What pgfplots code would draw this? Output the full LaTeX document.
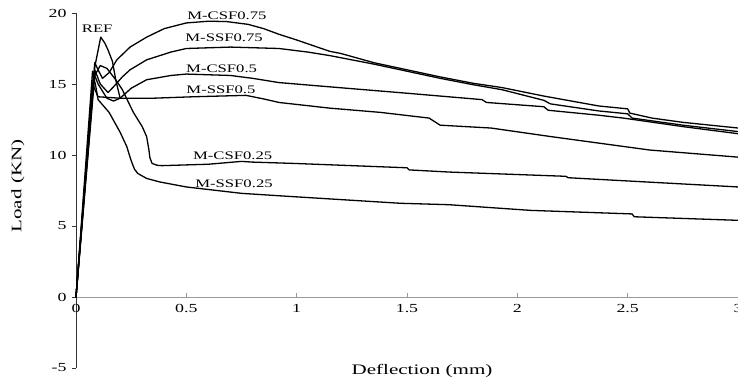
\documentclass[border=0pt]{standalone}
\usepackage{fontspec}
\setmainfont{Liberation Serif}[FakeStretch=1.45]
\usepackage{pgfplots}
\pgfplotsset{compat=1.18}
\newcommand{\lf}{\fontsize{11.5}{13}\selectfont}
\newcommand{\kf}{\fontsize{12.3}{14}\selectfont}
\newcommand{\tf}{\fontsize{14.5}{17}\selectfont}
\pgfplotsset{curve/.style={black, solid, no markers, line width=1.3pt, line join=round, line cap=round}}
\begin{document}
\begin{tikzpicture}
\begin{axis}[
  at={(0pt,0pt)}, anchor=south west,
  scale only axis, width=662pt, height=355pt,
  xmin=0, xmax=3, ymin=-5, ymax=20,
  axis x line=middle, axis y line=left,
  axis line style={-},
  x axis line style={draw=gray!80, line width=0.8pt},
  y axis line style={draw=black!80, line width=0.8pt},
  xtick={0,0.5,1,1.5,2,2.5,3}, ytick={-5,0,5,10,15,20},
  xticklabels={0,0.5,1,1.5,2,2.5,3},
  xtick align=inside, ytick align=outside,
  major tick length=4pt,
  xtick style={draw=gray!80, line width=0.8pt},
  ytick style={draw=black!80, line width=0.8pt},
  hide obscured x ticks=false, hide obscured y ticks=false,
  /pgf/number format/assume math mode=true,
  tick label style={font=\kf},
  xticklabel style={yshift=-4pt},
  yticklabel style={xshift=-2pt},
  clip=false,
]
% REF
\addplot[curve] coordinates {(0,0)(0.085,16.2)(0.112,18.3)(0.13,17.9)(0.145,17.4)(0.165,16.6)(0.18,15.3)(0.2,14.0)};
% M-CSF0.75
\addplot[curve] coordinates {(0,0)(0.085,16.5)(0.1,16.0)(0.12,15.4)(0.15,15.8)(0.185,16.7)(0.245,17.6)(0.32,18.3)(0.4,18.9)(0.5,19.3)(0.6,19.42)(0.68,19.4)(0.78,19.2)(0.85,18.9)(0.92,18.5)(1.0,18.1)(1.15,17.3)(1.2,17.15)(1.35,16.5)(1.5,16.0)(1.65,15.5)(1.8,15.05)(1.93,14.75)(2.12,14.15)(2.37,13.45)(2.5,13.25)(2.51,12.95)(2.61,12.6)(2.75,12.3)(3.0,11.9)};
% M-SSF0.75
\addplot[curve] coordinates {(0,0)(0.085,16.0)(0.11,15.0)(0.145,14.4)(0.17,14.8)(0.21,15.5)(0.245,16.0)(0.32,16.7)(0.43,17.25)(0.5,17.5)(0.7,17.6)(0.92,17.5)(1.05,17.25)(1.15,17.0)(1.35,16.4)(1.5,15.9)(1.65,15.4)(1.8,14.95)(1.93,14.6)(2.12,13.85)(2.15,13.6)(2.37,13.1)(2.5,12.9)(2.52,12.6)(2.75,12.1)(3.0,11.65)};
% M-CSF0.5
\addplot[curve] coordinates {(0,0)(0.08,15.8)(0.1,15.0)(0.14,14.0)(0.17,13.8)(0.2,14.0)(0.25,14.7)(0.32,15.3)(0.43,15.6)(0.5,15.7)(0.7,15.6)(0.8,15.4)(0.92,15.1)(1.15,14.8)(1.5,14.35)(1.84,13.9)(1.86,13.7)(2.12,13.4)(2.14,13.15)(2.37,12.8)(2.48,12.6)(2.75,12.0)(3.0,11.5)};
% M-SSF0.5
\addplot[curve] coordinates {(0,0)(0.075,15.0)(0.1,14.1)(0.2,14.0)(0.35,14.0)(0.53,14.1)(0.77,14.2)(0.85,13.95)(0.92,13.7)(1.15,13.3)(1.38,13.0)(1.6,12.6)(1.65,12.1)(1.88,11.9)(2.15,11.3)(2.6,10.35)(3.0,9.85)};
% M-CSF0.25
\addplot[curve] coordinates {(0,0)(0.085,15.6)(0.11,16.3)(0.14,16.1)(0.18,15.3)(0.21,14.6)(0.26,13.0)(0.3,12.0)(0.32,11.3)(0.33,10.4)(0.335,9.8)(0.345,9.4)(0.37,9.27)(0.39,9.25)(0.6,9.35)(0.75,9.55)(0.8,9.5)(1.0,9.4)(1.5,9.1)(1.51,8.95)(1.69,8.8)(2.22,8.5)(2.23,8.4)(3.0,7.75)};
% M-SSF0.25
\addplot[curve] coordinates {(0,0)(0.075,15.9)(0.09,14.8)(0.10,13.9)(0.15,13.0)(0.2,11.6)(0.23,10.6)(0.25,9.6)(0.265,9.0)(0.28,8.7)(0.32,8.35)(0.38,8.1)(0.5,7.75)(0.75,7.3)(0.95,7.1)(1.47,6.6)(1.69,6.5)(2.06,6.1)(2.52,5.85)(2.53,5.65)(3.0,5.4)};
\node[font=\lf] at (axis cs:0.096,18.9) {REF};
\node[font=\lf] at (axis cs:0.684,19.8) {M-CSF0.75};
\node[font=\lf] at (axis cs:0.671,18.25) {M-SSF0.75};
\node[font=\lf] at (axis cs:0.66,16.1) {M-CSF0.5};
\node[font=\lf] at (axis cs:0.657,14.6) {M-SSF0.5};
\node[font=\lf] at (axis cs:0.71,9.93) {M-CSF0.25};
\node[font=\lf] at (axis cs:0.716,8.0) {M-SSF0.25};
\end{axis}
\node[font=\tf] at (346pt,-3pt) {Deflection (mm)};
\node[font=\tf, rotate=90] at (-58pt,182pt) {Load (KN)};
\pgfresetboundingbox
\path[use as bounding box] (-76pt,-13pt) rectangle (662pt,368pt);
\end{tikzpicture}
\end{document}
